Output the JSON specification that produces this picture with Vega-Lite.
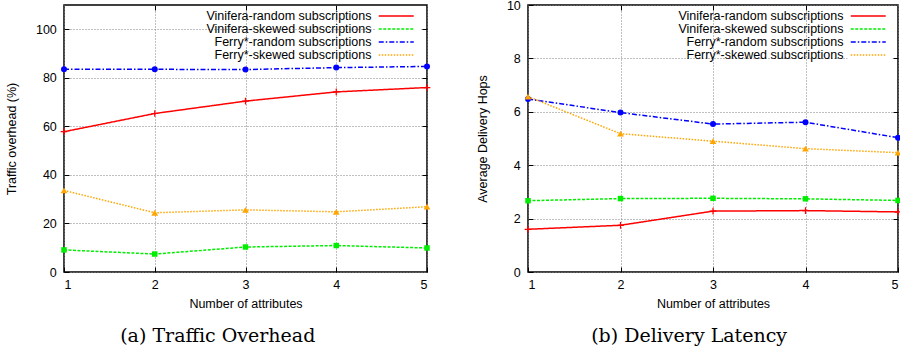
{
  "$schema": "https://vega.github.io/schema/vega-lite/v6.json",
  "padding": {"left": 4, "top": -2, "right": -3, "bottom": 0},
  "spacing": 44,
  "background": "white",
  "config": {
    "font": "Liberation Sans",
    "view": {"stroke": "black", "strokeWidth": 1.5},
    "axis": {
      "labelFont": "Liberation Sans",
      "labelFontSize": 12.5,
      "labelColor": "black",
      "titleFont": "Liberation Sans",
      "titleFontSize": 12.5,
      "titleFontWeight": "normal",
      "titleColor": "black",
      "grid": true,
      "gridColor": "#808080",
      "gridDash": [1, 2],
      "gridOpacity": 1,
      "domain": false,
      "tickColor": "black",
      "tickSize": -5,
      "labelPadding": 12.7
    },
    "legend": {
      "padding": 3,
      "fillColor": "white",
      "symbolType": "M-3.5,0H3.5",
      "symbolSize": 100,
      "symbolStrokeWidth": 1.5,
      "symbolOffset": 11.5,
      "rowPadding": 0,
      "labelFont": "Liberation Sans",
      "labelFontSize": 12.5,
      "labelColor": "black",
      "labelLimit": 400,
      "labelAlign": "right",
      "labelOffset": -31
    },
    "title": {"font": "DejaVu Serif", "fontSize": 19, "fontWeight": "normal", "color": "black"}
  },
  "datasets": {
    "overhead": [
      {"series": "Vinifera-random subscriptions", "attributes": 1, "value": 57.8},
      {"series": "Vinifera-random subscriptions", "attributes": 2, "value": 65.3},
      {"series": "Vinifera-random subscriptions", "attributes": 3, "value": 70.4},
      {"series": "Vinifera-random subscriptions", "attributes": 4, "value": 74.2},
      {"series": "Vinifera-random subscriptions", "attributes": 5, "value": 76.0},
      {"series": "Vinifera-skewed subscriptions", "attributes": 1, "value": 9.1},
      {"series": "Vinifera-skewed subscriptions", "attributes": 2, "value": 7.4},
      {"series": "Vinifera-skewed subscriptions", "attributes": 3, "value": 10.3},
      {"series": "Vinifera-skewed subscriptions", "attributes": 4, "value": 10.9},
      {"series": "Vinifera-skewed subscriptions", "attributes": 5, "value": 9.9},
      {"series": "Ferry*-random subscriptions", "attributes": 1, "value": 83.5},
      {"series": "Ferry*-random subscriptions", "attributes": 2, "value": 83.5},
      {"series": "Ferry*-random subscriptions", "attributes": 3, "value": 83.4},
      {"series": "Ferry*-random subscriptions", "attributes": 4, "value": 84.2},
      {"series": "Ferry*-random subscriptions", "attributes": 5, "value": 84.7},
      {"series": "Ferry*-skewed subscriptions", "attributes": 1, "value": 33.6},
      {"series": "Ferry*-skewed subscriptions", "attributes": 2, "value": 24.4},
      {"series": "Ferry*-skewed subscriptions", "attributes": 3, "value": 25.6},
      {"series": "Ferry*-skewed subscriptions", "attributes": 4, "value": 24.8},
      {"series": "Ferry*-skewed subscriptions", "attributes": 5, "value": 26.9}
    ],
    "latency": [
      {"series": "Vinifera-random subscriptions", "attributes": 1, "value": 1.6},
      {"series": "Vinifera-random subscriptions", "attributes": 2, "value": 1.75},
      {"series": "Vinifera-random subscriptions", "attributes": 3, "value": 2.28},
      {"series": "Vinifera-random subscriptions", "attributes": 4, "value": 2.3},
      {"series": "Vinifera-random subscriptions", "attributes": 5, "value": 2.25},
      {"series": "Vinifera-skewed subscriptions", "attributes": 1, "value": 2.67},
      {"series": "Vinifera-skewed subscriptions", "attributes": 2, "value": 2.75},
      {"series": "Vinifera-skewed subscriptions", "attributes": 3, "value": 2.76},
      {"series": "Vinifera-skewed subscriptions", "attributes": 4, "value": 2.74},
      {"series": "Vinifera-skewed subscriptions", "attributes": 5, "value": 2.68},
      {"series": "Ferry*-random subscriptions", "attributes": 1, "value": 6.48},
      {"series": "Ferry*-random subscriptions", "attributes": 2, "value": 5.97},
      {"series": "Ferry*-random subscriptions", "attributes": 3, "value": 5.54},
      {"series": "Ferry*-random subscriptions", "attributes": 4, "value": 5.61},
      {"series": "Ferry*-random subscriptions", "attributes": 5, "value": 5.03},
      {"series": "Ferry*-skewed subscriptions", "attributes": 1, "value": 6.57},
      {"series": "Ferry*-skewed subscriptions", "attributes": 2, "value": 5.18},
      {"series": "Ferry*-skewed subscriptions", "attributes": 3, "value": 4.9},
      {"series": "Ferry*-skewed subscriptions", "attributes": 4, "value": 4.62},
      {"series": "Ferry*-skewed subscriptions", "attributes": 5, "value": 4.47}
    ]
  },
  "hconcat": [
    {
      "width": 363,
      "height": 267,
      "data": {"name": "overhead"},
      "title": {"text": "(a) Traffic Overhead", "orient": "bottom", "anchor": "middle", "frame": "bounds", "offset": 16.5},
      "layer": [
        {
          "mark": {"type": "line", "strokeWidth": 1.5},
          "encoding": {
            "x": {"field": "attributes", "type": "quantitative", "scale": {"domain": [1, 5], "nice": false},
                  "axis": {"values": [1, 2, 3, 4, 5], "format": "d", "title": "Number of attributes", "labelPadding": 11, "titlePadding": 7}},
            "y": {"field": "value", "type": "quantitative", "scale": {"domain": [0, 110], "nice": false},
                  "axis": {"values": [0, 20, 40, 60, 80, 100], "title": "Traffic overhead (%)", "titlePadding": 17.3}},
            "color": {"field": "series", "type": "nominal", "sort": null,
                      "scale": {"domain": ["Vinifera-random subscriptions", "Vinifera-skewed subscriptions", "Ferry*-random subscriptions", "Ferry*-skewed subscriptions"],
                                "range": ["#ff0000", "#00ee00", "#0000ff", "#ffa500"]},
                      "legend": {"title": null, "orient": "none", "legendX": 311.5, "legendY": 1.75}},
            "strokeDash": {"field": "series", "type": "nominal", "sort": null,
                           "scale": {"domain": ["Vinifera-random subscriptions", "Vinifera-skewed subscriptions", "Ferry*-random subscriptions", "Ferry*-skewed subscriptions"],
                                     "range": [[1, 0], [3, 1.5], [5, 2, 1.5, 2], [1.5, 1.5]]},
                           "legend": {"title": null, "orient": "none", "legendX": 311.5, "legendY": 1.75}}
          }
        },
        {
          "transform": [{"filter": {"field": "series", "equal": "Vinifera-random subscriptions"}}],
          "mark": {"type": "point", "filled": true, "opacity": 1, "size": 45, "shape": "M-1,-0.18H1V0.18H-1Z M-0.18,-1H0.18V1H-0.18Z"},
          "encoding": {
            "x": {"field": "attributes", "type": "quantitative",
                  "axis": {"orient": "top", "values": [2, 3, 4], "labels": false, "title": null, "grid": false, "minExtent": 0}},
            "y": {"field": "value", "type": "quantitative",
                  "axis": {"orient": "right", "values": [20, 40, 60, 80, 100], "labels": false, "title": null, "grid": false, "minExtent": 0}},
            "color": {"field": "series", "type": "nominal", "legend": null}
          }
        },
        {
          "transform": [{"filter": {"field": "series", "equal": "Vinifera-skewed subscriptions"}}],
          "mark": {"type": "point", "filled": true, "opacity": 1, "size": 30, "shape": "square"},
          "encoding": {
            "x": {"field": "attributes", "type": "quantitative", "axis": null},
            "y": {"field": "value", "type": "quantitative", "axis": null},
            "color": {"field": "series", "type": "nominal", "legend": null}
          }
        },
        {
          "transform": [{"filter": {"field": "series", "equal": "Ferry*-random subscriptions"}}],
          "mark": {"type": "point", "filled": true, "opacity": 1, "size": 36, "shape": "circle"},
          "encoding": {
            "x": {"field": "attributes", "type": "quantitative", "axis": null},
            "y": {"field": "value", "type": "quantitative", "axis": null},
            "color": {"field": "series", "type": "nominal", "legend": null}
          }
        },
        {
          "transform": [{"filter": {"field": "series", "equal": "Ferry*-skewed subscriptions"}}],
          "mark": {"type": "point", "filled": true, "opacity": 1, "size": 45, "shape": "triangle-up"},
          "encoding": {
            "x": {"field": "attributes", "type": "quantitative", "axis": null},
            "y": {"field": "value", "type": "quantitative", "axis": null},
            "color": {"field": "series", "type": "nominal", "legend": null}
          }
        }
      ],
      "resolve": {"axis": {"x": "independent", "y": "independent"}}
    },
    {
      "width": 370,
      "height": 267,
      "data": {"name": "latency"},
      "title": {"text": "(b) Delivery Latency", "orient": "bottom", "anchor": "middle", "frame": "bounds", "offset": 16.5},
      "layer": [
        {
          "mark": {"type": "line", "strokeWidth": 1.5},
          "encoding": {
            "x": {"field": "attributes", "type": "quantitative", "scale": {"domain": [1, 5], "nice": false},
                  "axis": {"values": [1, 2, 3, 4, 5], "format": "d", "title": "Number of attributes", "labelPadding": 11, "titlePadding": 7}},
            "y": {"field": "value", "type": "quantitative", "scale": {"domain": [0, 10], "nice": false},
                  "axis": {"values": [0, 2, 4, 6, 8, 10], "title": "Average Delivery Hops", "titlePadding": 16.5}},
            "color": {"field": "series", "type": "nominal", "sort": null,
                      "scale": {"domain": ["Vinifera-random subscriptions", "Vinifera-skewed subscriptions", "Ferry*-random subscriptions", "Ferry*-skewed subscriptions"],
                                "range": ["#ff0000", "#00ee00", "#0000ff", "#ffa500"]},
                      "legend": {"title": null, "orient": "none", "legendX": 319.5, "legendY": 1.75}},
            "strokeDash": {"field": "series", "type": "nominal", "sort": null,
                           "scale": {"domain": ["Vinifera-random subscriptions", "Vinifera-skewed subscriptions", "Ferry*-random subscriptions", "Ferry*-skewed subscriptions"],
                                     "range": [[1, 0], [3, 1.5], [5, 2, 1.5, 2], [1.5, 1.5]]},
                           "legend": {"title": null, "orient": "none", "legendX": 319.5, "legendY": 1.75}}
          }
        },
        {
          "transform": [{"filter": {"field": "series", "equal": "Vinifera-random subscriptions"}}],
          "mark": {"type": "point", "filled": true, "opacity": 1, "size": 45, "shape": "M-1,-0.18H1V0.18H-1Z M-0.18,-1H0.18V1H-0.18Z"},
          "encoding": {
            "x": {"field": "attributes", "type": "quantitative",
                  "axis": {"orient": "top", "values": [2, 3, 4], "labels": false, "title": null, "grid": false, "minExtent": 0}},
            "y": {"field": "value", "type": "quantitative",
                  "axis": {"orient": "right", "values": [2, 4, 6, 8], "labels": false, "title": null, "grid": false, "minExtent": 0}},
            "color": {"field": "series", "type": "nominal", "legend": null}
          }
        },
        {
          "transform": [{"filter": {"field": "series", "equal": "Vinifera-skewed subscriptions"}}],
          "mark": {"type": "point", "filled": true, "opacity": 1, "size": 30, "shape": "square"},
          "encoding": {
            "x": {"field": "attributes", "type": "quantitative", "axis": null},
            "y": {"field": "value", "type": "quantitative", "axis": null},
            "color": {"field": "series", "type": "nominal", "legend": null}
          }
        },
        {
          "transform": [{"filter": {"field": "series", "equal": "Ferry*-random subscriptions"}}],
          "mark": {"type": "point", "filled": true, "opacity": 1, "size": 36, "shape": "circle"},
          "encoding": {
            "x": {"field": "attributes", "type": "quantitative", "axis": null},
            "y": {"field": "value", "type": "quantitative", "axis": null},
            "color": {"field": "series", "type": "nominal", "legend": null}
          }
        },
        {
          "transform": [{"filter": {"field": "series", "equal": "Ferry*-skewed subscriptions"}}],
          "mark": {"type": "point", "filled": true, "opacity": 1, "size": 45, "shape": "triangle-up"},
          "encoding": {
            "x": {"field": "attributes", "type": "quantitative", "axis": null},
            "y": {"field": "value", "type": "quantitative", "axis": null},
            "color": {"field": "series", "type": "nominal", "legend": null}
          }
        }
      ],
      "resolve": {"axis": {"x": "independent", "y": "independent"}}
    }
  ],
  "resolve": {"scale": {"color": "independent", "strokeDash": "independent"}, "legend": {"color": "independent", "strokeDash": "independent"}}
}
